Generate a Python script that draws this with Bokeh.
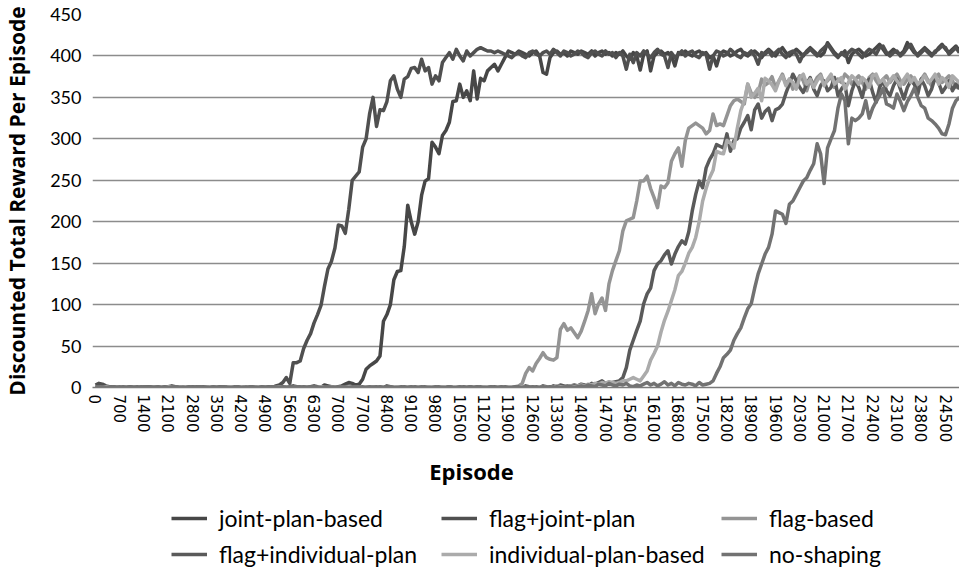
from bokeh.plotting import figure
from bokeh.layouts import column
from bokeh.models import Range1d, FixedTicker, Legend, LegendItem, Label
from bokeh.embed import file_html
from bokeh.resources import INLINE

# x categories: episode every 100 steps
episodes = list(range(0, 25000, 100))
x_tick_values = list(range(0, 24501, 700))
y_tick_values = [0, 50, 100, 150, 200, 250, 300, 350, 400, 450]

series_names = ["joint-plan-based", "flag+joint-plan", "flag-based",
                "flag+individual-plan", "individual-plan-based", "no-shaping"]

joint_plan_based = [
    1, 0, 0, 1, 0, 0, 1, 0, 0, 0,
    0, 1, 0, 0, 0, 1, 0, 0, 1, 0,
    0, 0, 1, 0, 0, 0, 1, 0, 0, 1,
    0, 0, 0, 1, 0, 0, 0, 1, 0, 0,
    1, 0, 0, 0, 1, 0, 0, 0, 1, 0,
    0, 1, 0, 0, 1, 0, 1, 2, 1, 0,
    1, 0, 1, 2, 1, 0, 3, 2, 1, 0,
    1, 2, 4, 6, 5, 3, 4, 10, 22, 26,
    29, 32, 38, 80, 88, 100, 130, 140, 141, 170,
    220, 200, 185, 200, 232, 249, 252, 296, 290, 282,
    304, 310, 320, 345, 346, 366, 350, 358, 346, 382,
    348, 373, 370, 382, 386, 390, 382, 390, 398, 406,
    404, 402, 406, 404, 402, 400, 404, 406, 400, 380,
    378, 398, 404, 406, 402, 404, 400, 406, 404, 402,
    406, 404, 402, 406, 400, 404, 406, 402, 404, 400,
    404, 402, 406, 400, 396, 404, 400, 383, 402, 406,
    382, 400, 404, 406, 402, 404, 400, 388, 404, 402,
    406, 402, 400, 404, 406, 402, 404, 398, 400, 388,
    402, 406, 404, 400, 402, 406, 408, 402, 400, 404,
    406, 402, 398, 404, 408, 404, 400, 406, 410, 404,
    400, 404, 408, 404, 400, 406, 410, 406, 402, 400,
    404, 416, 410, 404, 400, 402, 406, 392, 402, 406,
    408, 404, 400, 402, 406, 410, 414, 408, 402, 404,
    408, 404, 402, 406, 416, 410, 404, 402, 406, 410,
    406, 402, 404, 410, 414, 408, 404, 408, 412, 406,
]

flag_joint_plan = [
    3, 5, 4, 2, 1, 1, 0, 1, 0, 0,
    1, 0, 0, 1, 0, 1, 1, 0, 0, 1,
    0, 1, 2, 1, 0, 0, 1, 0, 0, 0,
    1, 0, 0, 1, 0, 0, 1, 1, 0, 0,
    0, 1, 0, 0, 1, 0, 0, 1, 0, 1,
    1, 0, 2, 3, 6, 12, 5, 30, 30, 32,
    47, 57, 65, 78, 88, 99, 122, 143, 152, 168,
    196, 195, 186, 215, 250, 255, 260, 290, 300, 330,
    350, 315, 335, 334, 345, 370, 376, 360, 350, 372,
    375, 385, 386, 380, 396, 382, 386, 366, 376, 370,
    392, 398, 404, 396, 408, 400, 394, 406, 400, 404,
    408, 410, 408, 406, 406, 404, 406, 404, 402, 400,
    398, 402, 404, 400, 398, 404, 406, 402, 400, 404,
    406, 402, 408, 404, 400, 406, 404, 400, 402, 406,
    404, 400, 398, 404, 406, 402, 400, 406, 402, 404,
    398, 404, 400, 384, 402, 392, 404, 400, 406, 402,
    398, 404, 408, 402, 400, 386, 404, 398, 402, 406,
    400, 404, 406, 400, 398, 404, 402, 384, 400, 406,
    404, 400, 402, 408, 404, 400, 398, 404, 402, 406,
    400, 390, 404, 402, 406, 400, 404, 408, 402, 398,
    404, 406, 402, 393, 402, 404, 408, 404, 400, 406,
    410, 414, 408, 402, 398, 404, 400, 404, 408, 406,
    402, 398, 404, 408, 406, 402, 410, 412, 404, 400,
    404, 406, 400, 404, 410, 414, 406, 400, 404, 408,
    404, 400, 406, 408, 412, 410, 402, 406, 410, 404,
]

flag_based = [
    0, 0, 1, 0, 0, 0, 1, 0, 0, 0,
    0, 1, 0, 0, 0, 0, 0, 1, 0, 0,
    0, 0, 0, 1, 0, 0, 0, 0, 1, 0,
    0, 0, 1, 0, 0, 0, 0, 1, 0, 0,
    0, 0, 0, 0, 1, 0, 0, 0, 0, 1,
    0, 0, 0, 1, 0, 0, 0, 0, 1, 0,
    0, 0, 1, 0, 0, 0, 0, 0, 1, 0,
    0, 1, 0, 0, 0, 1, 0, 0, 0, 0,
    1, 0, 0, 0, 1, 0, 0, 0, 1, 0,
    0, 1, 0, 0, 0, 1, 0, 0, 0, 1,
    0, 0, 1, 0, 0, 0, 1, 0, 0, 0,
    1, 0, 0, 0, 1, 0, 0, 1, 0, 0,
    0, 1, 2, 5, 17, 24, 20, 29, 35, 42,
    36, 34, 33, 36, 70, 77, 69, 72, 66, 60,
    68, 80, 93, 113, 89, 101, 108, 93, 125, 141,
    153, 165, 189, 201, 203, 205, 225, 249, 249, 255,
    240, 229, 217, 243, 241, 247, 273, 282, 289, 267,
    298, 313, 316, 319, 316, 313, 306, 310, 330, 316,
    318, 316, 328, 340, 346, 348, 345, 342, 366, 355,
    350, 355, 372, 365, 368, 375, 362, 370, 378, 366,
    372, 360, 368, 376, 370, 358, 372, 366, 374, 378,
    366, 370, 376, 362, 372, 368, 378, 374, 366, 372,
    376, 368, 360, 374, 378, 370, 364, 372, 376, 368,
    374, 378, 370, 366, 372, 376, 368, 360, 372, 378,
    370, 364, 374, 378, 368, 372, 376, 370, 362, 366,
]

flag_individual_plan = [
    0, 1, 0, 0, 0, 1, 0, 0, 0, 0,
    1, 0, 0, 0, 0, 1, 0, 0, 0, 1,
    0, 0, 0, 1, 0, 0, 0, 0, 1, 0,
    0, 1, 0, 0, 0, 0, 1, 0, 0, 0,
    0, 0, 1, 0, 0, 1, 0, 0, 0, 0,
    1, 0, 0, 0, 1, 0, 0, 0, 0, 1,
    0, 0, 1, 0, 0, 0, 1, 0, 0, 0,
    0, 0, 1, 2, 1, 0, 0, 1, 0, 0,
    0, 1, 0, 0, 2, 1, 0, 0, 1, 0,
    0, 0, 1, 0, 0, 1, 0, 0, 0, 1,
    0, 0, 1, 0, 0, 0, 1, 0, 1, 0,
    0, 1, 0, 0, 0, 1, 0, 0, 1, 0,
    0, 0, 1, 0, 2, 1, 0, 1, 0, 2,
    1, 0, 2, 1, 3, 2, 1, 2, 3, 2,
    4, 3, 2, 5, 4, 6, 8, 5, 4, 6,
    7, 8, 12, 24, 45, 57, 69, 80, 101, 113,
    120, 141, 149, 153, 160, 165, 149, 161, 170, 177,
    173, 188, 213, 233, 249, 241, 265, 275, 282, 293,
    291, 289, 306, 285, 298, 300, 313, 320, 328, 311,
    335, 342, 325, 333, 337, 322, 335, 337, 342, 355,
    366, 378, 370, 362, 356, 366, 374, 360, 352, 364,
    370, 358, 362, 374, 352, 360, 366, 340, 358, 370,
    362, 350, 368, 372, 356, 344, 362, 370, 358, 352,
    364, 372, 360, 348, 362, 370, 366, 354, 372, 364,
    352, 360, 374, 368, 356, 362, 370, 358, 366, 360,
]

individual_plan_based = [
    0, 0, 0, 1, 0, 0, 0, 0, 1, 0,
    0, 0, 1, 0, 0, 0, 0, 0, 0, 1,
    0, 1, 0, 0, 0, 0, 1, 0, 0, 0,
    0, 0, 0, 1, 0, 0, 0, 0, 0, 1,
    0, 0, 1, 0, 0, 0, 0, 1, 0, 0,
    0, 0, 0, 0, 1, 0, 0, 0, 0, 0,
    1, 0, 0, 0, 0, 1, 0, 0, 0, 0,
    0, 0, 0, 1, 0, 0, 0, 0, 1, 0,
    0, 0, 1, 0, 0, 0, 0, 1, 0, 0,
    0, 1, 0, 0, 0, 0, 1, 0, 0, 0,
    1, 0, 0, 0, 0, 1, 0, 0, 0, 0,
    0, 0, 1, 0, 0, 0, 0, 1, 0, 0,
    0, 0, 0, 1, 0, 0, 1, 0, 0, 1,
    0, 1, 0, 2, 1, 0, 1, 2, 1, 2,
    3, 2, 4, 3, 5, 4, 6, 5, 7, 6,
    5, 6, 8, 8, 10, 12, 10, 8, 14, 20,
    33, 41, 50, 67, 81, 92, 105, 118, 135, 140,
    150, 162, 169, 181, 200, 225, 240, 253, 262, 285,
    283, 282, 298, 295, 289, 313, 334, 346, 366, 350,
    355, 361, 346, 373, 370, 365, 358, 370, 376, 364,
    372, 368, 360, 374, 378, 366, 372, 362, 370, 376,
    364, 372, 378, 366, 370, 374, 360, 368, 376, 372,
    366, 374, 370, 362, 376, 378, 368, 372, 364, 370,
    376, 370, 364, 372, 378, 368, 374, 366, 370, 376,
    368, 372, 378, 366, 374, 370, 362, 376, 372, 368,
]

no_shaping = [
    1, 0, 1, 0, 0, 1, 0, 0, 1, 0,
    0, 0, 1, 0, 1, 0, 0, 0, 1, 0,
    1, 0, 0, 1, 0, 0, 0, 1, 0, 0,
    1, 0, 0, 0, 1, 0, 0, 1, 0, 0,
    0, 1, 0, 0, 0, 1, 0, 0, 1, 0,
    0, 1, 0, 0, 1, 0, 0, 0, 1, 0,
    1, 0, 0, 1, 0, 0, 0, 1, 0, 0,
    0, 1, 0, 0, 0, 1, 0, 0, 0, 1,
    0, 0, 1, 0, 0, 1, 0, 0, 0, 1,
    0, 1, 0, 0, 1, 0, 0, 0, 1, 0,
    0, 0, 1, 0, 0, 1, 0, 0, 1, 0,
    1, 0, 0, 0, 1, 0, 0, 1, 0, 0,
    0, 1, 0, 0, 1, 0, 1, 0, 0, 1,
    0, 1, 0, 1, 0, 0, 2, 1, 0, 1,
    2, 1, 3, 2, 1, 4, 3, 2, 5, 3,
    2, 4, 3, 5, 2, 1, 3, 2, 4, 6,
    3, 5, 2, 4, 7, 3, 5, 2, 6, 4,
    3, 5, 4, 2, 6, 3, 4, 5, 8, 17,
    25, 36, 40, 45, 57, 65, 72, 84, 95, 101,
    120, 137, 149, 161, 169, 185, 213, 211, 209, 198,
    221, 225, 233, 241, 249, 253, 262, 270, 294, 282,
    246, 289, 300, 310, 337, 354, 346, 294, 325, 322,
    325, 330, 346, 325, 337, 345, 352, 361, 342, 340,
    337, 354, 345, 334, 345, 352, 361, 350, 340, 337,
    325, 322, 318, 313, 306, 305, 318, 337, 346, 350,
]

series_values = [joint_plan_based, flag_joint_plan, flag_based,
                 flag_individual_plan, individual_plan_based, no_shaping]
series_colors = ["#474747", "#505050", "#949494", "#5a5a5a", "#ababab", "#727272"]

W = 959
MAIN_H = 450
LEG_H = 122
TOP = 14
FRAME_H = 373
LEFT = 91

p = figure(width=W, height=MAIN_H,
           x_range=Range1d(-86, 24903), y_range=Range1d(0, 450),
           output_backend="svg", toolbar_location=None,
           min_border_left=LEFT, min_border_right=0, min_border_top=TOP,
           min_border_bottom=MAIN_H - TOP - FRAME_H)

p.outline_line_color = None
p.background_fill_color = "white"
p.border_fill_color = "white"
p.xgrid.visible = False
p.ygrid.grid_line_color = "#8c8c8c"
p.ygrid.grid_line_width = 1.5
p.ygrid.ticker = FixedTicker(ticks=y_tick_values)

# y axis
p.yaxis.ticker = FixedTicker(ticks=y_tick_values)
p.yaxis.axis_line_color = None
p.yaxis.major_tick_line_color = None
p.yaxis.minor_tick_line_color = None
p.yaxis.major_tick_out = 0
p.yaxis.major_tick_in = 0
p.yaxis.major_label_text_font = "Lato"
p.yaxis.major_label_text_font_size = "18px"
p.yaxis.major_label_text_color = "#000000"
p.yaxis.major_label_standoff = 11
p.yaxis.axis_label = "Discounted Total Reward Per Episode"
p.yaxis.axis_label_text_font = "Open Sans"
p.yaxis.axis_label_text_font_style = "bold"
p.yaxis.axis_label_text_font_size = "21px"
p.yaxis.axis_label_text_color = "#000000"
p.yaxis.axis_label_standoff = 16

# x axis (title drawn separately below)
p.xaxis.ticker = FixedTicker(ticks=x_tick_values)
p.xaxis.major_label_overrides = {t: str(t) for t in x_tick_values}
p.xaxis.major_label_orientation = "vertical"
p.xaxis.axis_line_color = "#7a7a7a"
p.xaxis.axis_line_width = 1.5
p.xaxis.major_tick_line_color = None
p.xaxis.minor_tick_line_color = None
p.xaxis.major_tick_out = 0
p.xaxis.major_tick_in = 0
p.xaxis.major_label_text_font = "DejaVu Sans"
p.xaxis.major_label_text_font_size = "15px"
p.xaxis.major_label_text_color = "#000000"
p.xaxis.major_label_standoff = 7

for name, vals, col in zip(series_names, series_values, series_colors):
    p.line(episodes[:len(vals)], vals, line_color=col, line_width=3.5,
           line_join="round")

# lower strip: x-axis title and legend (its frame is aligned with the main frame)
q = figure(width=W, height=LEG_H, x_range=Range1d(0, 24903),
           y_range=Range1d(1000, 1001),
           output_backend="svg", toolbar_location=None,
           x_axis_location=None, y_axis_location=None, min_border=0)
q.outline_line_color = None
q.grid.visible = False
q.background_fill_color = "white"
q.border_fill_color = "white"

q.add_layout(Label(x=470 - LEFT, y=LEG_H - 20, x_units="screen", y_units="screen",
                   text="Episode", text_align="center", text_baseline="middle",
                   text_font="Open Sans", text_font_style="bold",
                   text_font_size="22px", text_color="#000000"))

# legend renderers: same series, drawn outside this strip's visible y range
legend_renderers = []
for name, vals, col in zip(series_names, series_values, series_colors):
    legend_renderers.append(q.line(episodes[:len(vals)], vals,
                                   line_color=col, line_width=3.5))

col_x = [170 - LEFT, 440 - LEFT, 720 - LEFT]
for c in range(3):
    its = [LegendItem(label=series_names[c], renderers=[legend_renderers[c]]),
           LegendItem(label=series_names[c + 3], renderers=[legend_renderers[c + 3]])]
    lg = Legend(items=its, orientation="vertical",
                location=(col_x[c], 4),
                border_line_color=None, background_fill_alpha=0,
                label_text_font="Lato", label_text_font_size="23px",
                label_text_color="#000000",
                glyph_width=36, glyph_height=20, label_standoff=12,
                spacing=8, padding=0, margin=0)
    q.add_layout(lg)

layout = column(p, q, spacing=0)
open("out.html", "w").write(file_html(layout, INLINE))
